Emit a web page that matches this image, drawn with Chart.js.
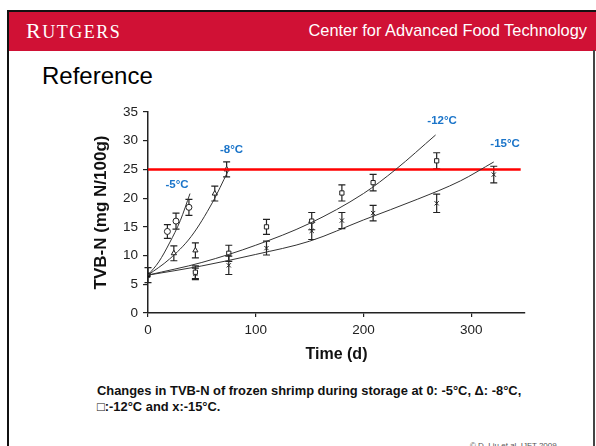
<!DOCTYPE html>
<html lang="en">
<head>
  <meta charset="UTF-8" />
  <title>TVB-N of frozen shrimp</title>
  <script src="https://cdn.jsdelivr.net/npm/chart.js"></script>
  <style>
    body { margin: 0; width: 596px; height: 446px; overflow: hidden; background: #fff; position: relative; font-family: Arial, "Liberation Sans", sans-serif; }
    .frame-top { position: absolute; left: 7px; top: 10px; width: 589px; height: 2px; background: #111; }
    .frame-left { position: absolute; left: 7px; top: 10px; width: 2px; height: 436px; background: #111; }
    .frame-right { position: absolute; left: 593px; top: 50px; width: 2px; height: 396px; background: #444; }
    .band { position: absolute; left: 9px; top: 12px; width: 587px; height: 39px; background: #d01135; }
    .logo { position: absolute; left: 26px; top: 18px; color: #fff; font-family: "Liberation Serif", "DejaVu Serif", serif; letter-spacing: 1.5px; }
    .logo .big { font-size: 22px; }
    .logo .small { font-size: 18px; }
    .center { position: absolute; right: 9px; top: 21px; color: #fff; font-size: 16.4px; }
    .ref { position: absolute; left: 42px; top: 62px; font-size: 24px; color: #000; }
    #wrap { position: absolute; left: 60px; top: 95px; width: 480px; height: 280px; }
    .caption { position: absolute; left: 97px; top: 383px; font-size: 12.9px; font-weight: bold; line-height: 16px; color: #111; }
    .credit { position: absolute; left: 470px; top: 441px; font-size: 8px; color: #555; }
  </style>
</head>
<body>
  <div class="band"></div>
  <div class="frame-top"></div>
  <div class="frame-left"></div>
  <div class="frame-right"></div>
  <div class="logo"><span class="big">R</span><span class="small">UTGERS</span></div>
  <div class="center">Center for Advanced Food Technology</div>
  <div class="ref">Reference</div>
  <div id="wrap"><canvas id="chart"></canvas></div>
  <div class="caption">Changes in TVB-N of frozen shrimp during storage at 0: -5°C, Δ: -8°C,<br>□:-12°C and x:-15°C.</div>
  <div class="credit">© D. Liu et al. IJFT 2009</div>

<script>
// measured points (day, TVB-N, +/- error)
const m5Days = [18, 26, 38];
const m5Vals = [14.2, 16.0, 18.4];
const m5Err  = [1.2, 1.4, 1.4];

const m8Days = [24, 44, 62, 73];
const m8Vals = [10.4, 10.9, 20.8, 25.0];
const m8Err  = [1.3, 1.3, 1.3, 1.3];

const m12Days = [44, 75, 110, 152, 180, 209, 268];
const m12Vals = [7.1, 10.4, 15.0, 16.0, 20.9, 22.7, 26.5];
const m12Err  = [1.1, 1.4, 1.3, 1.5, 1.4, 1.45, 1.4];

const m15Days = [44, 75, 110, 152, 180, 209, 268, 321];
const m15Vals = [6.8, 8.3, 11.3, 14.3, 16.1, 17.4, 19.1, 24.1];
const m15Err  = [1.0, 1.6, 1.2, 1.5, 1.4, 1.35, 1.6, 1.45];

const startDay = [0];
const startVal = [6.6];
const startErr = [1.3];

// fitted curves
const c5Days = [0, 10, 20, 30, 39];
const c5Vals = [6.6, 8.9, 12.2, 16.1, 20.8];
const c8Days = [0, 20, 40, 60, 74];
const c8Vals = [6.6, 9.4, 13.3, 19.3, 24.6];
const c12Days = [0, 50, 100, 150, 200, 230, 267];
const c12Vals = [6.6, 8.8, 11.8, 15.6, 20.8, 25.0, 31.0];
const c15Days = [0, 50, 100, 150, 200, 250, 290, 321];
const c15Vals = [6.6, 8.2, 10.2, 12.5, 16.2, 19.8, 23.0, 26.3];

// limit line
const limitDays = [0, 346];
const limitVal = 25;

// temperature labels
const tempLabels = ['-5°C', '-8°C', '-12°C', '-15°C'];
const tempDays = [27, 77.5, 273, 331.5];
const tempVals = [22.3, 28.4, 33.4, 29.4];

const xTicks = [0, 100, 200, 300];

const pts = (xs, ys) => xs.map((x, i) => ({ x, y: ys[i] }));

function curve(xs, ys) {
  return { type: 'line', data: pts(xs, ys), borderColor: '#333', borderWidth: 1, pointRadius: 0, cubicInterpolationMode: 'monotone', fill: false };
}
function marks(xs, ys, err, style, fill) {
  return { type: 'scatter', data: pts(xs, ys), err, pointStyle: style, pointRadius: 3, borderColor: '#222', borderWidth: 1, backgroundColor: fill || '#fff' };
}

const errorBars = {
  id: 'errorBars',
  beforeDatasetsDraw(chart) {
    const { ctx, scales: { x, y } } = chart;
    ctx.save();
    ctx.strokeStyle = '#222';
    ctx.lineWidth = 1.2;
    chart.data.datasets.forEach(ds => {
      if (!ds.err) return;
      ds.data.forEach((p, i) => {
        const px = x.getPixelForValue(p.x);
        const top = y.getPixelForValue(p.y + ds.err[i]);
        const bot = y.getPixelForValue(p.y - ds.err[i]);
        ctx.beginPath();
        ctx.moveTo(px, top); ctx.lineTo(px, bot);
        ctx.moveTo(px - 3.5, top); ctx.lineTo(px + 3.5, top);
        ctx.moveTo(px - 3.5, bot); ctx.lineTo(px + 3.5, bot);
        ctx.stroke();
      });
    });
    ctx.restore();
  },
  afterDatasetsDraw(chart) {
    const { ctx, scales: { x, y } } = chart;
    ctx.save();
    ctx.fillStyle = '#1a74c9';
    ctx.font = 'bold 11.5px Arial, "Liberation Sans", sans-serif';
    ctx.textAlign = 'center';
    ctx.textBaseline = 'middle';
    tempLabels.forEach((t, i) => ctx.fillText(t, x.getPixelForValue(tempDays[i]), y.getPixelForValue(tempVals[i])));
    ctx.restore();
  }
};

new Chart(document.getElementById('chart'), {
  data: {
    datasets: [
      curve(c5Days, c5Vals),
      curve(c8Days, c8Vals),
      curve(c12Days, c12Vals),
      curve(c15Days, c15Vals),
      { type: 'line', data: limitDays.map(d => ({ x: d, y: limitVal })), borderColor: '#ff0000', borderWidth: 2.5, pointRadius: 0 },
      marks(m5Days, m5Vals, m5Err, 'circle'),
      marks(m8Days, m8Vals, m8Err, 'triangle'),
      marks(m12Days, m12Vals, m12Err, 'rect'),
      marks(m15Days, m15Vals, m15Err, 'crossRot'),
      marks(startDay, startVal, startErr, 'rect', '#000')
    ]
  },
  options: {
    responsive: true,
    maintainAspectRatio: false,
    animation: false,
    events: [],
    layout: { padding: { top: 17, right: 15, left: 0, bottom: 0 } },
    plugins: { legend: { display: false }, tooltip: { enabled: false } },
    scales: {
      x: {
        type: 'linear', min: 0, max: 350,
        afterBuildTicks: s => { s.ticks = xTicks.map(v => ({ value: v })); },
        afterFit: s => { s.height = 62; },
        grid: { drawOnChartArea: false, color: '#222', tickLength: 4, lineWidth: 1.2 },
        border: { color: '#222', width: 1.5 },
        ticks: { color: '#222', padding: 5, font: { size: 13.5, family: 'Arial, "Liberation Sans", sans-serif' } },
        title: { display: true, text: 'Time (d)', color: '#111', padding: { bottom: 11 }, font: { size: 16, weight: 'bold', family: 'Arial, "Liberation Sans", sans-serif' } }
      },
      y: {
        type: 'linear', min: 0, max: 35,
        afterFit: s => { s.width = 88; },
        grid: { drawOnChartArea: false, color: '#222', tickLength: 5, lineWidth: 1.2 },
        border: { color: '#222', width: 1.5 },
        ticks: { stepSize: 5, color: '#222', padding: 5, font: { size: 13.5, family: 'Arial, "Liberation Sans", sans-serif' } },
        title: { display: true, text: 'TVB-N (mg N/100g)', color: '#111', padding: { top: 31 }, font: { size: 17, weight: 'bold', family: 'Arial, "Liberation Sans", sans-serif' } }
      }
    }
  },
  plugins: [errorBars]
});
</script>
</body>
</html>
